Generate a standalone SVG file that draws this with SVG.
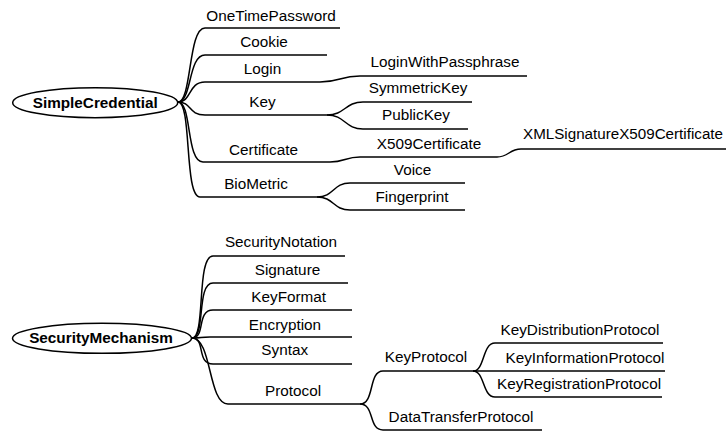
<svg xmlns="http://www.w3.org/2000/svg" width="726" height="432" viewBox="0 0 726 432">
<style>
text{font-family:"Liberation Sans",Arial,sans-serif;font-size:15.3px;fill:#000;text-anchor:middle}
.root{font-weight:bold}
.st{text-anchor:start}
path,line,ellipse{stroke:#000;stroke-width:1.5;fill:none}
ellipse{fill:#fff}
</style>
<rect width="726" height="432" fill="#fff"/>
<g id="connectors">
<path d="M178,102 C192,102 188,28 205,28"/>
<path d="M178,102 C192,102 188,55 205,55"/>
<path d="M178,102 C192,102 188,82 205,82"/>
<path d="M178,102 C192,102 188,115 205,115"/>
<path d="M178,102 C192,102 186,162 203,162"/>
<path d="M178,102 C192,102 184,197 200,197"/>
<path d="M320,82 C340,82 340,76 360,76"/>
<path d="M327,115 C345,115 345,102 363,102"/>
<path d="M327,115 C345,115 345,129 363,129"/>
<path d="M330,162 C345,162 345,157 360,157"/>
<path d="M497,157 C509,157 509,149 521,149"/>
<path d="M317,197 C334,197 333,183 350,183"/>
<path d="M317,197 C334,197 333,210 350,210"/>
<path d="M192,338 C206,338 196,256 213,256"/>
<path d="M192,338 C206,338 196,283 213,283"/>
<path d="M192,338 C206,338 196,310 213,310"/>
<path d="M192,338 C204,338 198,337 210,337"/>
<path d="M192,338 C206,338 196,364 213,364"/>
<path d="M192,338 C212,338 208,404 228,404"/>
<path d="M360,404 C375,404 368,371 383,371"/>
<path d="M360,404 C375,404 368,430 383,430"/>
<path d="M473,371 C485,371 482,343 495,343"/>
<path d="M473,371 C485,371 482,397 495,397"/>
</g>
<g id="SimpleCredential">
<ellipse cx="95.2" cy="102.7" rx="82.5" ry="15"/>
<text class="root" x="95.2" y="107.5">SimpleCredential</text>
</g>
<g id="OneTimePassword"><line x1="205" y1="28" x2="340" y2="28"/><text x="271" y="20.5">OneTimePassword</text></g>
<g id="Cookie"><line x1="205" y1="55" x2="327" y2="55"/><text x="264" y="47">Cookie</text></g>
<g id="Login"><line x1="205" y1="82" x2="320" y2="82"/><text x="262.5" y="73.5">Login</text></g>
<g id="LoginWithPassphrase"><line x1="360" y1="76" x2="527" y2="76"/><text x="445" y="67">LoginWithPassphrase</text></g>
<g id="Key"><line x1="205" y1="115" x2="327" y2="115"/><text x="262.5" y="107">Key</text></g>
<g id="SymmetricKey"><line x1="363" y1="102" x2="472" y2="102"/><text x="418" y="93">SymmetricKey</text></g>
<g id="PublicKey"><line x1="363" y1="129" x2="468" y2="129"/><text x="416" y="120">PublicKey</text></g>
<g id="Certificate"><line x1="203" y1="162" x2="330" y2="162"/><text x="263.5" y="155">Certificate</text></g>
<g id="X509Certificate"><line x1="360" y1="157" x2="497" y2="157"/><text x="429" y="148.5">X509Certificate</text></g>
<g id="XMLSignatureX509Certificate"><line x1="521" y1="149" x2="730" y2="149"/><text class="st" x="523" y="139" textLength="200" lengthAdjust="spacingAndGlyphs">XMLSignatureX509Certificate</text></g>
<g id="BioMetric"><line x1="200" y1="197" x2="317" y2="197"/><text x="256" y="189">BioMetric</text></g>
<g id="Voice"><line x1="350" y1="183" x2="465" y2="183"/><text x="412.5" y="175">Voice</text></g>
<g id="Fingerprint"><line x1="350" y1="210" x2="465" y2="210"/><text x="412" y="202">Fingerprint</text></g>
<g id="SecurityMechanism">
<ellipse cx="102" cy="338.3" rx="89.5" ry="15"/>
<text class="root" x="101" y="343.3">SecurityMechanism</text>
</g>
<g id="SecurityNotation"><line x1="213" y1="256" x2="345" y2="256"/><text x="281" y="247">SecurityNotation</text></g>
<g id="Signature"><line x1="213" y1="283" x2="348" y2="283"/><text x="287.5" y="274.5">Signature</text></g>
<g id="KeyFormat"><line x1="213" y1="310" x2="352" y2="310"/><text x="288.7" y="302">KeyFormat</text></g>
<g id="Encryption"><line x1="210" y1="337" x2="352" y2="337"/><text x="285" y="329.5">Encryption</text></g>
<g id="Syntax"><line x1="213" y1="364" x2="352" y2="364"/><text x="284.7" y="355">Syntax</text></g>
<g id="Protocol"><line x1="228" y1="404" x2="360" y2="404"/><text x="293" y="396">Protocol</text></g>
<g id="KeyProtocol"><line x1="383" y1="371" x2="473" y2="371"/><text x="426" y="362">KeyProtocol</text></g>
<g id="KeyDistributionProtocol"><line x1="495" y1="343" x2="663" y2="343"/><text x="580" y="335">KeyDistributionProtocol</text></g>
<g id="KeyInformationProtocol"><line x1="473" y1="371" x2="665" y2="371"/><text x="585" y="362.5">KeyInformationProtocol</text></g>
<g id="KeyRegistrationProtocol"><line x1="495" y1="397" x2="662" y2="397"/><text x="579" y="389">KeyRegistrationProtocol</text></g>
<g id="DataTransferProtocol"><line x1="383" y1="430" x2="542" y2="430"/><text x="461" y="422">DataTransferProtocol</text></g>
</svg>
